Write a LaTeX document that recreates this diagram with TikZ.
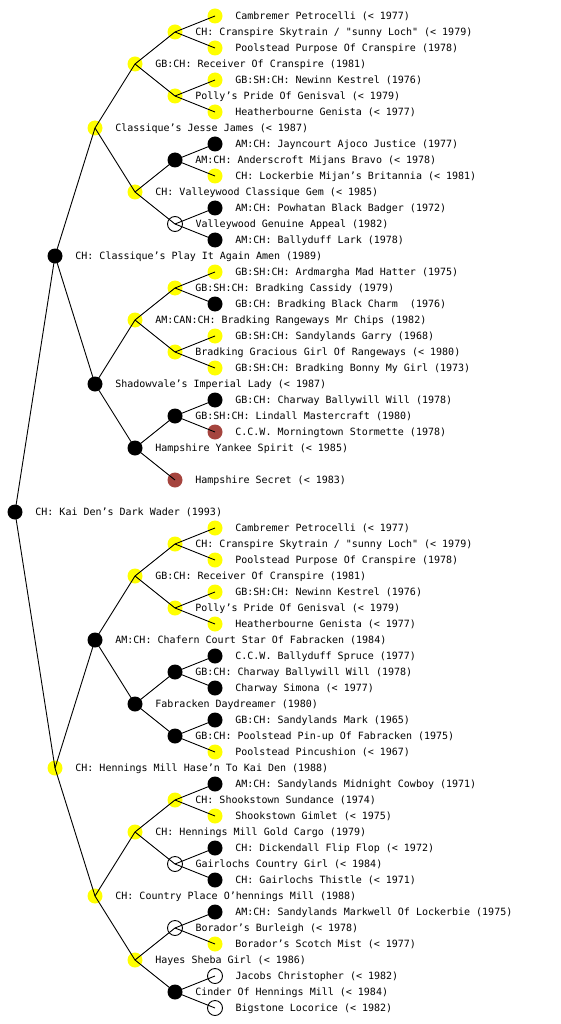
\documentclass[tikz,border=0pt]{standalone}
\usepackage{fontspec}
\setmonofont{DejaVu Sans Mono}
\definecolor{sable}{HTML}{A5443E}
\definecolor{gold}{HTML}{FFFF00}

\begin{document}
\begin{tikzpicture}[x=1pt, y=-1pt, font=\ttfamily\fontsize{10}{12}\selectfont,
  dog/.style={circle, minimum size=15pt, inner sep=0pt},
  every label/.style={inner sep=0pt, text height=7.3pt, text depth=0pt, xshift=12.5pt},
  yel/.style={dog, fill=gold},
  blk/.style={dog, fill=black},
  brn/.style={dog, fill=sable},
  unk/.style={dog, draw=black, fill=white, line width=0.9pt},
  edge/.style={draw=black, line width=0.9pt}]
\useasboundingbox (0,0) rectangle (560,1024);
% -- sire side
\node[yel, label=right:{Cambremer Petrocelli (< 1977)}] (r1) at (215,16) {};
\node[yel, label=right:{CH: Cranspire Skytrain / "sunny Loch" (< 1979)}] (r2) at (175,32) {};
\node[yel, label=right:{Poolstead Purpose Of Cranspire (1978)}] (r3) at (215,48) {};
\node[yel, label=right:{GB:CH: Receiver Of Cranspire (1981)}] (r4) at (135,64) {};
\node[yel, label=right:{GB:SH:CH: Newinn Kestrel (1976)}] (r5) at (215,80) {};
\node[yel, label=right:{Polly’s Pride Of Genisval (< 1979)}] (r6) at (175,96) {};
\node[yel, label=right:{Heatherbourne Genista (< 1977)}] (r7) at (215,112) {};
\node[yel, label=right:{Classique’s Jesse James (< 1987)}] (r8) at (95,128) {};
\node[blk, label=right:{AM:CH: Jayncourt Ajoco Justice (1977)}] (r9) at (215,144) {};
\node[blk, label=right:{AM:CH: Anderscroft Mijans Bravo (< 1978)}] (r10) at (175,160) {};
\node[yel, label=right:{CH: Lockerbie Mijan’s Britannia (< 1981)}] (r11) at (215,176) {};
\node[yel, label=right:{CH: Valleywood Classique Gem (< 1985)}] (r12) at (135,192) {};
\node[blk, label=right:{AM:CH: Powhatan Black Badger (1972)}] (r13) at (215,208) {};
\node[unk, label=right:{Valleywood Genuine Appeal (1982)}] (r14) at (175,224) {};
\node[blk, label=right:{AM:CH: Ballyduff Lark (1978)}] (r15) at (215,240) {};
\node[blk, label=right:{CH: Classique’s Play It Again Amen (1989)}] (r16) at (55,256) {};
\node[yel, label=right:{GB:SH:CH: Ardmargha Mad Hatter (1975)}] (r17) at (215,272) {};
\node[yel, label=right:{GB:SH:CH: Bradking Cassidy (1979)}] (r18) at (175,288) {};
\node[blk, label=right:{GB:CH: Bradking Black Charm \ (1976)}] (r19) at (215,304) {};
\node[yel, label=right:{AM:CAN:CH: Bradking Rangeways Mr Chips (1982)}] (r20) at (135,320) {};
\node[yel, label=right:{GB:SH:CH: Sandylands Garry (1968)}] (r21) at (215,336) {};
\node[yel, label=right:{Bradking Gracious Girl Of Rangeways (< 1980)}] (r22) at (175,352) {};
\node[yel, label=right:{GB:SH:CH: Bradking Bonny My Girl (1973)}] (r23) at (215,368) {};
\node[blk, label=right:{Shadowvale’s Imperial Lady (< 1987)}] (r24) at (95,384) {};
\node[blk, label=right:{GB:CH: Charway Ballywill Will (1978)}] (r25) at (215,400) {};
\node[blk, label=right:{GB:SH:CH: Lindall Mastercraft (1980)}] (r26) at (175,416) {};
\node[brn, label=right:{C.C.W. Morningtown Stormette (1978)}] (r27) at (215,432) {};
\node[blk, label=right:{Hampshire Yankee Spirit (< 1985)}] (r28) at (135,448) {};
\node[brn, label=right:{Hampshire Secret (< 1983)}] (r30) at (175,480) {};
% -- the dog
\node[blk, label=right:{CH: Kai Den’s Dark Wader (1993)}] (r32) at (15,512) {};
% -- dam side
\node[yel, label=right:{Cambremer Petrocelli (< 1977)}] (r33) at (215,528) {};
\node[yel, label=right:{CH: Cranspire Skytrain / "sunny Loch" (< 1979)}] (r34) at (175,544) {};
\node[yel, label=right:{Poolstead Purpose Of Cranspire (1978)}] (r35) at (215,560) {};
\node[yel, label=right:{GB:CH: Receiver Of Cranspire (1981)}] (r36) at (135,576) {};
\node[yel, label=right:{GB:SH:CH: Newinn Kestrel (1976)}] (r37) at (215,592) {};
\node[yel, label=right:{Polly’s Pride Of Genisval (< 1979)}] (r38) at (175,608) {};
\node[yel, label=right:{Heatherbourne Genista (< 1977)}] (r39) at (215,624) {};
\node[blk, label=right:{AM:CH: Chafern Court Star Of Fabracken (1984)}] (r40) at (95,640) {};
\node[blk, label=right:{C.C.W. Ballyduff Spruce (1977)}] (r41) at (215,656) {};
\node[blk, label=right:{GB:CH: Charway Ballywill Will (1978)}] (r42) at (175,672) {};
\node[blk, label=right:{Charway Simona (< 1977)}] (r43) at (215,688) {};
\node[blk, label=right:{Fabracken Daydreamer (1980)}] (r44) at (135,704) {};
\node[blk, label=right:{GB:CH: Sandylands Mark (1965)}] (r45) at (215,720) {};
\node[blk, label=right:{GB:CH: Poolstead Pin-up Of Fabracken (1975)}] (r46) at (175,736) {};
\node[yel, label=right:{Poolstead Pincushion (< 1967)}] (r47) at (215,752) {};
\node[yel, label=right:{CH: Hennings Mill Hase’n To Kai Den (1988)}] (r48) at (55,768) {};
\node[blk, label=right:{AM:CH: Sandylands Midnight Cowboy (1971)}] (r49) at (215,784) {};
\node[yel, label=right:{CH: Shookstown Sundance (1974)}] (r50) at (175,800) {};
\node[yel, label=right:{Shookstown Gimlet (< 1975)}] (r51) at (215,816) {};
\node[yel, label=right:{CH: Hennings Mill Gold Cargo (1979)}] (r52) at (135,832) {};
\node[blk, label=right:{CH: Dickendall Flip Flop (< 1972)}] (r53) at (215,848) {};
\node[unk, label=right:{Gairlochs Country Girl (< 1984)}] (r54) at (175,864) {};
\node[blk, label=right:{CH: Gairlochs Thistle (< 1971)}] (r55) at (215,880) {};
\node[yel, label=right:{CH: Country Place O’hennings Mill (1988)}] (r56) at (95,896) {};
\node[blk, label=right:{AM:CH: Sandylands Markwell Of Lockerbie (1975)}] (r57) at (215,912) {};
\node[unk, label=right:{Borador’s Burleigh (< 1978)}] (r58) at (175,928) {};
\node[yel, label=right:{Borador’s Scotch Mist (< 1977)}] (r59) at (215,944) {};
\node[yel, label=right:{Hayes Sheba Girl (< 1986)}] (r60) at (135,960) {};
\node[unk, label=right:{Jacobs Christopher (< 1982)}] (r61) at (215,976) {};
\node[blk, label=right:{Cinder Of Hennings Mill (< 1984)}] (r62) at (175,992) {};
\node[unk, label=right:{Bigstone Locorice (< 1982)}] (r63) at (215,1008) {};
% -- lines of descent, centre to centre
\foreach \p/\c in {32/16,32/48,16/8,16/24,48/40,48/56,
    8/4,8/12,24/20,24/28,40/36,40/44,56/52,56/60,
    4/2,4/6,12/10,12/14,20/18,20/22,28/26,28/30,
    36/34,36/38,44/42,44/46,52/50,52/54,60/58,60/62,
    2/1,2/3,6/5,6/7,10/9,10/11,14/13,14/15,18/17,18/19,22/21,22/23,26/25,26/27,
    34/33,34/35,38/37,38/39,42/41,42/43,46/45,46/47,50/49,50/51,54/53,54/55,
    58/57,58/59,62/61,62/63}
  \draw[edge] (r\p.center) -- (r\c.center);
\end{tikzpicture}
\end{document}
